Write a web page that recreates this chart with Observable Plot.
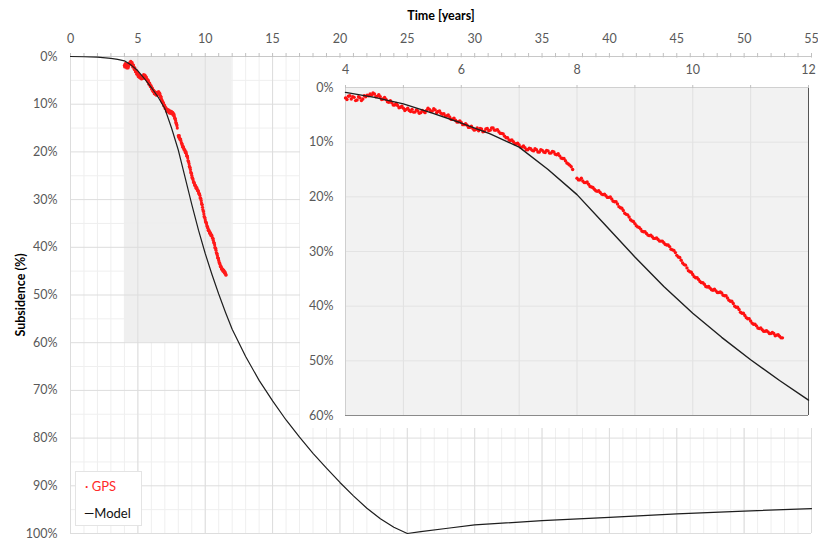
<!DOCTYPE html>
<html>
<head>
<meta charset="utf-8">
<script src="https://cdn.jsdelivr.net/npm/d3@7"></script>
<script src="https://cdn.jsdelivr.net/npm/@observablehq/plot@0.6"></script>
<style>
  html, body { margin: 0; padding: 0; background: #fff; }
  #chart { position: relative; width: 818px; height: 541px; overflow: hidden; font-family: Lato, "Open Sans", sans-serif; }
  #main { position: absolute; left: 0; top: 0; }
  #inset { position: absolute; left: 300px; top: 58px; }
  #legend { position: absolute; left: 75px; top: 471px; width: 67px; height: 55px; background: #fff;
            border: 1px solid #e4e4e4; box-sizing: border-box; font-size: 13px; }
  #legend .gps { position: absolute; left: 9px; top: 6px; color: #ff2a2a; }
  #legend .model { position: absolute; left: 8px; top: 33px; color: #111; }
  [aria-label="x-axis label"], [aria-label="y-axis label"] { font-weight: bold; fill: #000; }
</style>
</head>
<body>
<div id="chart">
  <div id="main"></div>
  <div id="inset"></div>
  <div id="legend"><span class="gps">· GPS</span><span class="model">—Model</span></div>
</div>
<script>
// ---- Data ----
// Model subsidence curve: time (years) and subsidence (%)
const modelT = [0, 1, 2, 3, 3.5, 4, 4.5, 5, 5.5, 6, 6.5, 7, 7.5, 8, 8.5, 9, 9.5, 10, 10.5, 11, 11.5, 12,
  13, 14, 15, 16, 17, 18, 19, 20, 21, 22, 23, 24, 25, 26, 28, 30, 35, 40, 45, 50, 55];
const modelP = [0, 0.05, 0.15, 0.4, 0.6, 0.9, 1.8, 3.0, 4.7, 6.5, 8.5, 10.9, 15.0, 19.6, 25.3, 31.0, 36.4, 41.3, 45.7, 49.8, 53.6, 57.2,
  62.9, 67.9, 72.2, 76.2, 79.8, 83.2, 86.3, 89.3, 92.1, 94.7, 96.9, 98.7, 100, 99.6, 98.9, 98.2, 97.3, 96.6, 95.9, 95.3, 94.8];

// GPS observations, epoch set A: first epoch, spacing (years), subsidence (%) (null = no data)
const gpsStartA = 4.0;
const gpsStartB = 4.025;
const gpsStep = 0.05;
const gpsA = [
  1.9, 1.6, 2.1, 1.8, 2.3, 1.9, 2.1, 1.7, 1.5, 1.4,
  1.2, 1.6, 1.7, 2.1, 2.2, 2.7, 2.8, 3.2, 3.3, 3.6,
  3.8, 4.0, 4.2, 4.0, 4.5, 4.3, 4.6, 4.4, 4.2, 4.0,
  4.3, 4.1, 4.4, 4.7, 4.8, 5.2, 5.4, 5.8, 6.0, 6.3,
  6.4, 6.8, 6.9, 7.3, 7.5, 7.7, 7.9, 7.6, 8.0, 7.5,
  7.8, 7.4, 7.8, 8.1, 8.4, 8.9, 9.2, 9.7, 9.9, 10.3,
  10.5, 10.9, 11.0, 11.4, 11.2, 11.6, 11.4, 11.8, 11.5, 11.9,
  11.6, 12.0, 11.8, 12.3, 12.5, 13.0, 13.4, 14.0, 14.5, null,
  16.6, 16.9, 17.1, 17.4, 17.7, 18.2, 18.6, 19.0, 19.2, 19.6,
  19.8, 20.1, 20.4, 20.9, 21.3, 22.0, 22.5, 23.2, 23.7, 24.4,
  24.9, 25.5, 25.9, 26.4, 26.7, 27.1, 27.3, 27.6, 27.8, 28.1,
  28.4, 28.8, 29.1, 29.7, 30.2, 31.0, 31.6, 32.4, 33.0, 33.7,
  34.2, 34.8, 35.1, 35.7, 36.0, 36.5, 36.7, 37.1, 37.2, 37.5,
  37.6, 38.1, 38.5, 39.1, 39.5, 40.2, 40.6, 41.3, 41.7, 42.3,
  42.7, 43.3, 43.6, 44.1, 44.3, 44.6, 44.7, 45.0, 45.0, 45.3,
  45.5, 45.8
];
// GPS observations, epoch set B (interleaved epochs)
const gpsB = [
  2.2, 1.5, 1.7, 2.4, 1.7, 2.4, 1.5, 1.4, 1.2, 1.0,
  1.7, 1.3, 2.2, 1.8, 2.6, 2.4, 3.2, 2.9, 3.7, 3.4,
  4.2, 3.8, 4.4, 4.5, 4.1, 4.7, 4.2, 4.6, 3.8, 4.4,
  3.9, 4.6, 4.3, 4.9, 5.2, 5.0, 5.8, 5.6, 6.3, 6.1,
  6.8, 6.6, 7.3, 7.1, 7.8, 7.4, 7.5, 8.1, 7.6, 7.9,
  7.4, 7.8, 7.7, 8.4, 8.5, 9.2, 9.6, 9.6, 10.3, 10.2,
  10.9, 10.7, 11.4, 11.1, 11.5, 11.2, 11.8, 11.4, 11.8, 11.5,
  12.0, 11.7, 12.2, 12.1, 12.9, 13.0, 13.8, 14.2, 15.0, null,
  16.9, 16.6, 17.4, 17.3, 18.1, 18.3, 18.9, 18.9, 19.5, 19.5,
  20.1, 20.0, 20.8, 20.9, 21.8, 22.1, 23.0, 23.3, 24.2, 24.5,
  25.3, 25.6, 26.3, 26.4, 27.0, 27.0, 27.6, 27.5, 28.1, 28.1,
  28.7, 28.8, 29.6, 29.8, 30.7, 31.1, 32.1, 32.5, 33.5, 33.8,
  34.6, 34.8, 35.5, 35.7, 36.4, 36.4, 37.0, 36.9, 37.5, 37.4,
  38.0, 38.1, 38.9, 39.1, 40.0, 40.2, 41.1, 41.3, 42.1, 42.3,
  43.1, 43.3, 44.0, 44.0, 44.6, 44.5, 45.0, 44.8, 45.4, 45.2,
  45.8
];

// Axis ticks
const mainMajorYears = [0, 5, 10, 15, 20, 25, 30, 35, 40, 45, 50, 55];
const mainMinorYears = d3.range(0, 56, 1);
const mainMajorPct = [0, 10, 20, 30, 40, 50, 60, 70, 80, 90, 100];
const mainMinorPct = [5, 15, 25, 35, 45, 55, 65, 75, 85, 95];
const insetLabelYears = [4, 6, 8, 10, 12];
const insetYears = [4, 5, 6, 7, 8, 9, 10, 11, 12];
const insetPct = [0, 10, 20, 30, 40, 50, 60];
const zoomBox = {x1: 4, x2: 12, y1: 0, y2: 60};

// ---- Build tables ----
const model = modelT.map((t, i) => ({t, p: modelP[i]}));
const gps = [
  ...gpsA.map((p, i) => ({t: gpsStartA + i * gpsStep, p})),
  ...gpsB.map((p, i) => ({t: gpsStartB + i * gpsStep, p}))
].filter(d => d.p != null);
const modelInset = model.filter(d => d.t >= 4 && d.t <= 12);

const font = "Lato, 'Open Sans', sans-serif";

// ---- Main chart ----
const main = Plot.plot({
  width: 818, height: 541,
  marginLeft: 70, marginRight: 7, marginTop: 56, marginBottom: 8,
  x: {domain: [0, 55]},
  y: {domain: [0, 100], reverse: true},
  style: {fontFamily: font, fontSize: "12.5px", color: "#595959", background: "#fff"},
  marks: [
    Plot.rect([zoomBox], {x1: "x1", x2: "x2", y1: "y1", y2: "y2", fill: "#efefef"}),
    Plot.ruleX(mainMinorYears, {stroke: "#efefef"}),
    Plot.ruleY(mainMinorPct, {stroke: "#efefef"}),
    Plot.ruleX(mainMajorYears, {stroke: "#dddddd"}),
    Plot.ruleY(mainMajorPct, {stroke: "#dddddd"}),
    Plot.ruleY([0], {stroke: "#c8c8c8"}),
    Plot.axisX({anchor: "top", ticks: mainMinorYears, tickSize: 4, tickFormat: () => "", stroke: "#c0c0c0", label: null}),
    Plot.axisX({anchor: "top", ticks: mainMajorYears, tickSize: 0, tickPadding: 14,
      label: "Time [years]", labelAnchor: "center", labelOffset: 45, labelArrow: "none"}),
    Plot.axisY({anchor: "left", ticks: mainMajorPct, tickSize: 0, tickPadding: 13, tickFormat: d => d + "%",
      label: "Subsidence (%)", labelAnchor: "center", labelOffset: 54, labelArrow: "none"}),
    Plot.dot(gps, {x: "t", y: "p", r: 1.6, fill: "#ff1a1a", stroke: null}),
    Plot.line(model, {x: "t", y: "p", stroke: "#1e1e1e", strokeWidth: 1.2})
  ]
});
document.getElementById("main").append(main);

// ---- Inset chart ----
const inset = Plot.plot({
  width: 518, height: 370,
  marginLeft: 45, marginRight: 10, marginTop: 29, marginBottom: 13,
  x: {domain: [4, 12]},
  y: {domain: [0, 60], reverse: true},
  style: {fontFamily: font, fontSize: "12.5px", color: "#595959", background: "#fff"},
  marks: [
    Plot.frame({fill: "#f2f2f2", stroke: null}),
    Plot.ruleX(insetYears, {stroke: "#e0e0e0"}),
    Plot.ruleY(insetPct, {stroke: "#e3e3e3"}),
    Plot.ruleX([4], {stroke: "#cfcfcf"}),
    Plot.ruleY([0], {stroke: "#d0d0d0"}),
    Plot.ruleY([60], {stroke: "#8a8a8a"}),
    Plot.ruleX([12], {stroke: "#555555"}),
    Plot.axisX({anchor: "top", ticks: insetYears, tickSize: 3, tickFormat: () => "", stroke: "#c0c0c0", label: null}),
    Plot.axisX({anchor: "top", ticks: insetLabelYears, tickSize: 0, tickPadding: 14, label: null}),
    Plot.axisY({anchor: "left", ticks: insetPct, tickSize: 0, tickPadding: 12, tickFormat: d => d + "%", label: null}),
    Plot.dot(gps, {x: "t", y: "p", r: 1.7, fill: "#ff1010", stroke: null}),
    Plot.line(modelInset, {x: "t", y: "p", stroke: "#1e1e1e", strokeWidth: 1.4})
  ]
});
document.getElementById("inset").append(inset);
</script>
</body>
</html>
